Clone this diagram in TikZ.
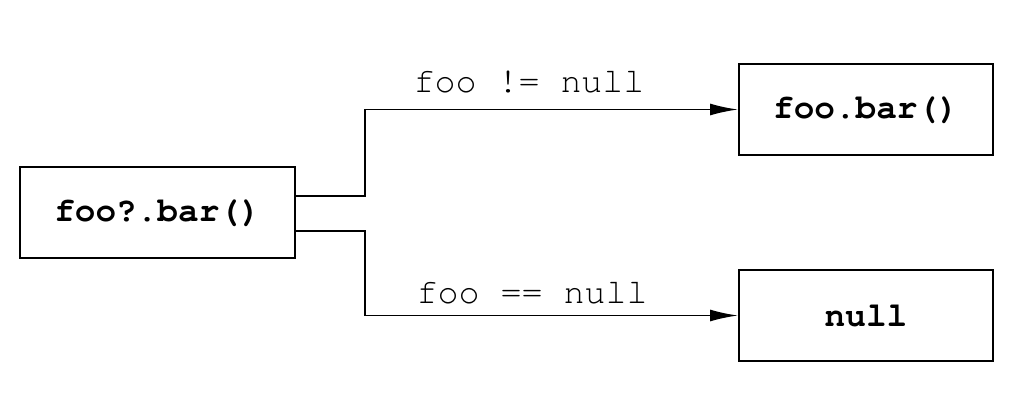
\documentclass[tikz,border=0pt]{standalone}
\usepackage[T1]{fontenc}
\usepackage{courier}
\usetikzlibrary{arrows.meta}
\begin{document}
\begin{tikzpicture}[x=0.5pt,y=-0.5pt,
  box/.style={draw,line width=1pt,minimum width=127pt,minimum height=45.5pt,inner sep=0pt,font=\ttfamily\bfseries\fontsize{17.2}{20}\selectfont},
  conn/.style={line width=0.9pt,-{Latex[length=14pt,width=6pt]}},
  lbl/.style={font=\ttfamily\fontsize{17.5}{20}\selectfont,inner sep=0pt}]
\useasboundingbox (0,0) rectangle (1014,414);
\node[box,minimum width=137.5pt] (src) at (157.5,212.5) {foo?.bar()};
\node[box] (t) at (866,109.5) {foo.bar()};
\node[box] (b) at (866,315.5) {null};
\coordinate (s1) at (295,196);
\coordinate (s2) at (295,231);
\draw[conn] (s1) -- (365,196) |- (t.west);
\draw[conn] (s2) -- (365,231) |- (b.west);
\node[lbl] (l1) at (529,82) {foo != null};
\node[lbl] (l2) at (532,293) {foo == null};
\end{tikzpicture}
\end{document}
